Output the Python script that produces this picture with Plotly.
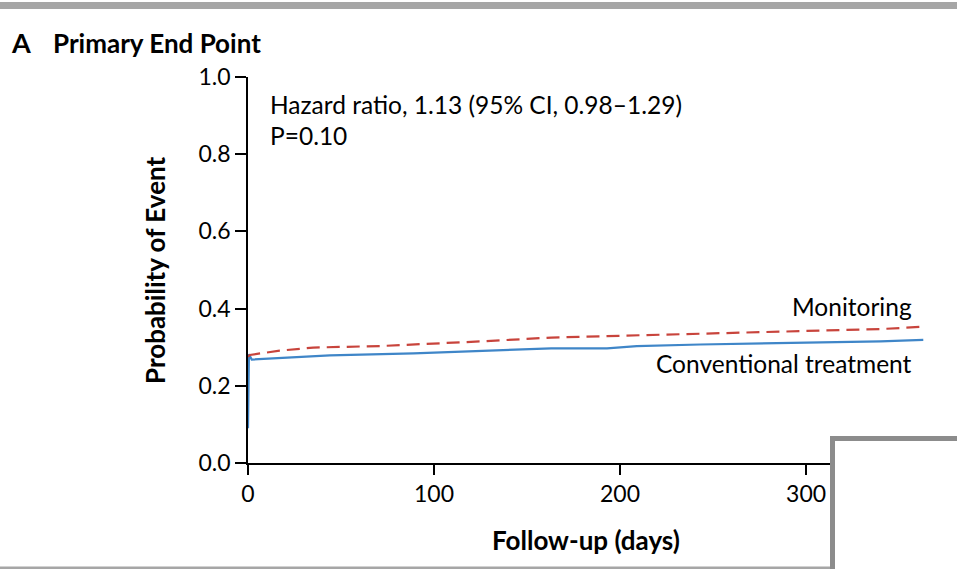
import plotly.graph_objects as go

# ---- data ----
conv_days = [0, 0.5, 2, 10, 30, 44, 89, 109, 125, 163, 193, 209, 243, 286, 340, 363]
conv_prob = [0.09, 0.282, 0.268, 0.270, 0.274, 0.279, 0.284, 0.288, 0.291, 0.297, 0.297, 0.303, 0.307, 0.310, 0.315, 0.319]
mon_days = [0, 1, 17, 35, 71, 109, 125, 163, 216, 243, 286, 340, 363]
mon_prob = [0.275, 0.280, 0.291, 0.299, 0.303, 0.311, 0.315, 0.325, 0.331, 0.335, 0.340, 0.347, 0.353]
x_ticks = [0, 100, 200, 300]
y_ticks = [0.0, 0.2, 0.4, 0.6, 0.8, 1.0]
y_tick_text = ["0.0", "0.2", "0.4", "0.6", "0.8", "1.0"]

W, H = 957, 569
L, R, T, B = 248, 30, 77, 106
PW, PH = W - L - R, H - T - B

def px(xp):
    return (xp - L) / PW

def py(yp):
    return (H - B - yp) / PH

FONT = "Lato"
BLUE = "#3f86c8"
RED = "#c8443c"

fig = go.Figure()
fig.add_trace(go.Scatter(x=conv_days, y=conv_prob, mode="lines",
                         line=dict(color=BLUE, width=2.2), showlegend=False,
                         cliponaxis=False))
fig.add_trace(go.Scatter(x=mon_days, y=mon_prob, mode="lines",
                         line=dict(color=RED, width=2.2, dash="13px,7px"), showlegend=False,
                         cliponaxis=False))

fig.update_layout(
    width=W, height=H,
    margin=dict(l=L, r=R, t=T, b=B),
    paper_bgcolor="white", plot_bgcolor="white",
    font=dict(family=FONT, size=24, color="black"),
    xaxis=dict(range=[0, 365], tickvals=x_ticks, ticktext=[str(v) for v in x_ticks],
               showgrid=False, zeroline=False, showline=True, linecolor="black",
               linewidth=1.5, ticks="outside", ticklen=10, tickwidth=1.5,
               tickcolor="black", tickfont=dict(family=FONT, size=23)),
    yaxis=dict(range=[0, 1], tickvals=y_ticks, ticktext=y_tick_text,
               showgrid=False, zeroline=False, showline=True, linecolor="black",
               linewidth=1.5, ticks="outside", ticklen=11, tickwidth=1.5,
               tickcolor="black", tickfont=dict(family=FONT, size=23)),
)

ann = []
ann.append(dict(text="<b>A</b>", x=px(9), y=py(43), xanchor="left", yanchor="middle",
                font=dict(family=FONT, size=27)))
ann.append(dict(text="<b>Primary End Point</b>", x=px(51), y=py(43), xanchor="left", yanchor="middle",
                font=dict(family=FONT, size=26)))
ann.append(dict(text="<b>Probability of Event</b>", x=px(155), y=py(270), textangle=-90,
                xanchor="center", yanchor="middle", font=dict(family=FONT, size=26)))
ann.append(dict(text="<b>Follow-up (days)</b>", x=px(586), y=py(540), xanchor="center",
                yanchor="middle", font=dict(family=FONT, size=26)))
ann.append(dict(text="Hazard ratio, 1.13 (95% CI, 0.98–1.29)", x=px(268), y=py(104),
                xanchor="left", yanchor="middle", font=dict(family=FONT, size=24.5)))
ann.append(dict(text="P=0.10", x=px(268), y=py(135), xanchor="left", yanchor="middle",
                font=dict(family=FONT, size=24.5)))
ann.append(dict(text="Monitoring", x=px(914), y=py(306), xanchor="right", yanchor="middle",
                font=dict(family=FONT, size=24.5)))
ann.append(dict(text="Conventional treatment", x=px(914), y=py(363), xanchor="right",
                yanchor="middle", font=dict(family=FONT, size=24.5)))
for a in ann:
    a.update(xref="paper", yref="paper", showarrow=False)
fig.update_layout(annotations=ann)

shapes = [
    dict(type="rect", xref="paper", yref="paper", x0=px(-5), x1=px(962), y0=py(9), y1=py(2),
         fillcolor="#a6a6a6", line=dict(width=0), layer="above"),
    dict(type="rect", xref="paper", yref="paper", x0=px(-5), x1=px(962), y0=py(575), y1=py(566.5),
         fillcolor="#a6a6a6", line=dict(width=0), layer="above"),
    dict(type="rect", xref="paper", yref="paper", x0=px(832.5), x1=px(975), y0=py(590), y1=py(438.5),
         fillcolor="white", line=dict(color="#8c8c8c", width=5), layer="above"),
]
fig.update_layout(shapes=shapes)

fig.write_html("out.html")
